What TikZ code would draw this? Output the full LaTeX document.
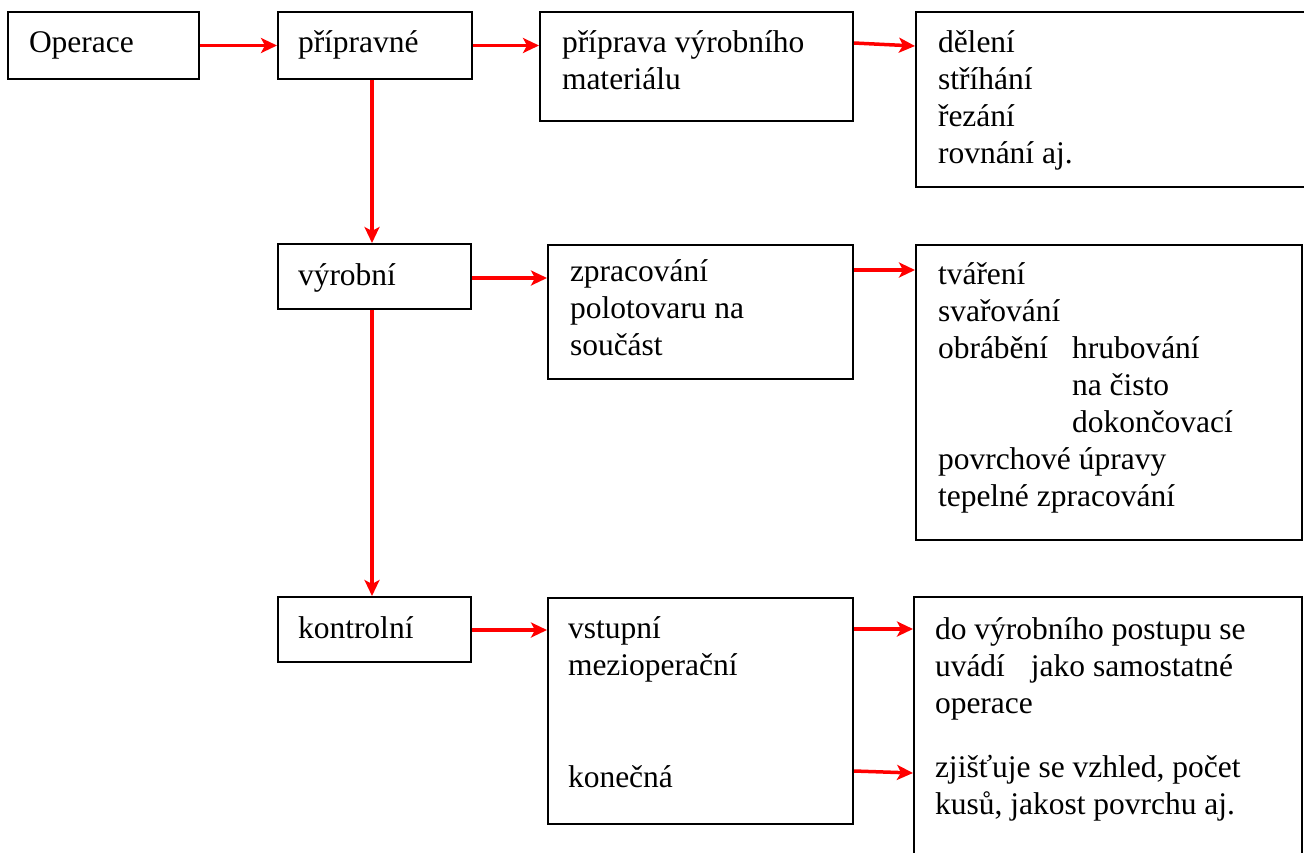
\documentclass[tikz,border=0pt]{standalone}
\usepackage{fontspec}
\setmainfont{Liberation Serif}
\usetikzlibrary{arrows.meta,fit}
\tikzset{
  box/.style={draw=black, line width=2pt, inner sep=0pt},
  arr/.style={draw=red, line width=3.5pt, -{Stealth[length=16pt,width=15pt,inset=4pt]}},
  txt/.style={anchor=base west, inner sep=0pt, outer sep=0pt, font=\fontsize{31.5}{37}\selectfont},
}
\newcommand\mylines[1]{\begin{tabular}[t]{@{}l@{}}#1\end{tabular}}
\begin{document}
\begin{tikzpicture}[x=1pt,y=-1pt]
\useasboundingbox (0,0) rectangle (1304,852);
\clip (0,0) rectangle (1304,852);
\fill[white] (0,0) rectangle (1304,852);

% boxes
\node[box, fit={(8,12) (199,79)}] (op) {};
\node[box, fit={(278,12) (472,79)}] (prip) {};
\node[box, fit={(540,12) (853,121)}] (pmat) {};
\node[box, fit={(916,12) (1330,187)}] (del) {};
\node[box, fit={(278,244) (471,309)}] (vyr) {};
\node[box, fit={(548,245) (853,379)}] (zpr) {};
\node[box, fit={(916,245) (1302,540)}] (tv) {};
\node[box, fit={(278,597) (471,662)}] (kon) {};
\node[box, fit={(548,598) (853,824)}] (vst) {};
\node[box, fit={(914,597) (1302,880)}] (dov) {};

% texts
\node[txt] (tOp) at (29,52) {Operace};
\node[txt] (tPrip) at (298,52) {přípravné};
\node[txt] (tPmat) at (562,52) {\mylines{příprava výrobního\\materiálu}};
\node[txt] (tDel) at (938,52) {\mylines{dělení\\stříhání\\řezání\\rovnání aj.}};
\node[txt] (tVyr) at (298,285) {výrobní};
\node[txt] (tZpr) at (570,281) {\mylines{zpracování\\polotovaru na\\součást}};
\node[txt] (tTv) at (938,284) {\mylines{tváření\\svařování\\obrábění\\[74pt]povrchové úpravy\\tepelné zpracování}};
\node[txt] (tObr) at (1072,358) {\mylines{hrubování\\na čisto\\dokončovací}};
\node[txt] (tKon) at (298,638) {kontrolní};
\node[txt] (tVst) at (568,638) {\mylines{vstupní\\mezioperační}};
\node[txt] (tKonc) at (568,787) {konečná};
\node[txt] (tDo) at (935,639) {\mylines{do výrobního postupu se\\uvádí\hspace{26pt}jako samostatné\\operace}};
\node[txt] (tZj) at (935,777) {\mylines{zjišťuje se vzhled, počet\\kusů, jakost povrchu aj.}};

% connectors
\draw[arr] (op.east) -- (prip.west);
\draw[arr] (prip.east) -- (pmat.west |- prip.east);
\draw[arr] (pmat.east |- 0,43) -- (del.west |- 0,46);
\draw[arr] (prip.south -| 372,0) -- (vyr.north -| 372,0);
\draw[arr] (vyr.south -| 372,0) -- (kon.north -| 372,0);
\draw[arr] (vyr.east |- 0,278) -- (zpr.west |- 0,278);
\draw[arr] (zpr.east |- 0,270) -- (tv.west |- 0,270);
\draw[arr] (kon.east |- 0,630) -- (vst.west |- 0,630);
\draw[arr] (vst.east |- 0,629) -- (dov.west |- 0,629);
\draw[arr] (vst.east |- 0,771) -- (dov.west |- 0,773);
\end{tikzpicture}
\end{document}
